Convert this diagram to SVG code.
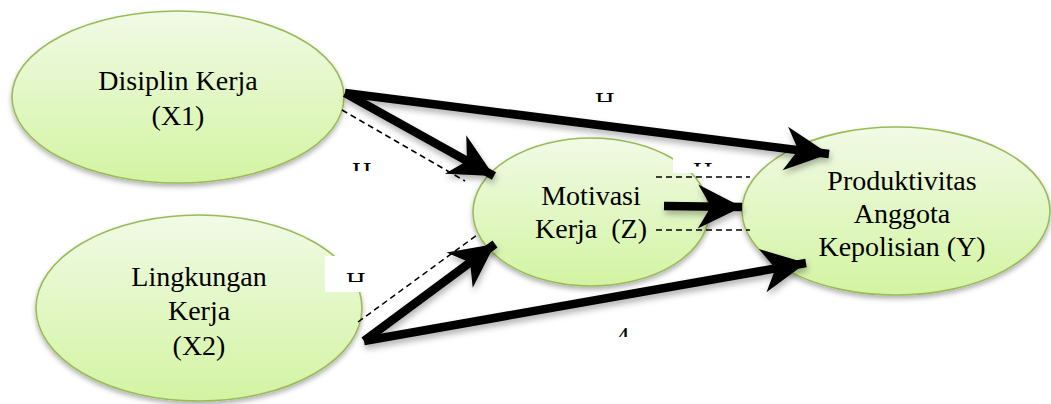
<svg xmlns="http://www.w3.org/2000/svg" width="1051" height="404" viewBox="0 0 1051 404">
<style>
.node{fill:url(#g);stroke:#9bbb59;stroke-width:1.6;filter:url(#sh)}
.lbl{font-family:"Liberation Serif","Times New Roman",serif;font-size:28px;fill:#000;text-anchor:middle}
.h{font-family:"Liberation Serif","Times New Roman",serif;font-size:27px;fill:#000}
.arr{stroke:#000;stroke-width:8.5;fill:none;marker-end:url(#ah)}
.dash{stroke:#000;stroke-width:1.5;fill:none;stroke-dasharray:6 4}
.box{fill:#fff}
</style>
<defs>
<linearGradient id="g" x1="0" y1="0" x2="0" y2="1">
<stop offset="0" stop-color="#f1fae6"/>
<stop offset="1" stop-color="#d3f4a2"/>
</linearGradient>
<filter id="sh" x="-10%" y="-10%" width="120%" height="130%">
<feDropShadow dx="0" dy="3" stdDeviation="2.5" flood-color="#000" flood-opacity="0.3"/>
</filter>
<filter id="ash" x="-10%" y="-30%" width="120%" height="160%">
<feDropShadow dx="1" dy="4" stdDeviation="3" flood-color="#000" flood-opacity="0.3"/>
</filter>
<marker id="ah" markerUnits="userSpaceOnUse" markerWidth="50" markerHeight="50" viewBox="-48 -25 50 50" refX="0" refY="0" orient="auto">
<path d="M0,0 L-44,-22 L-31,0 L-44,22 Z" fill="#000"/>
</marker>
<clipPath id="c1"><rect x="585" y="85" width="40" height="17"/></clipPath>
<clipPath id="c2"><rect x="342" y="155" width="40" height="16"/></clipPath>
<clipPath id="c3"><rect x="336" y="265" width="40" height="17"/></clipPath>
<clipPath id="c4"><rect x="683" y="155" width="40" height="11.5"/></clipPath>
<clipPath id="c5"><rect x="610" y="320" width="30" height="17"/></clipPath>
</defs>
<rect width="1051" height="404" fill="#fff"/>

<g id="node-x1">
<ellipse class="node" cx="178" cy="97" rx="166" ry="86"/>
<text class="lbl" x="178" y="90">Disiplin Kerja</text>
<text class="lbl" x="178" y="125">(X1)</text>
</g>
<g id="node-x2">
<ellipse class="node" cx="199" cy="308" rx="163" ry="93"/>
<text class="lbl" x="199" y="286">Lingkungan</text>
<text class="lbl" x="199" y="320">Kerja</text>
<text class="lbl" x="199" y="355">(X2)</text>
</g>
<g id="node-z">
<ellipse class="node" cx="591" cy="212" rx="118" ry="74"/>
<text class="lbl" x="591" y="205">Motivasi</text>
<text class="lbl" x="591" y="238" xml:space="preserve">Kerja  (Z)</text>
</g>
<g id="node-y">
<ellipse class="node" cx="896" cy="211" rx="154" ry="84"/>
<text class="lbl" x="902" y="190">Produktivitas</text>
<text class="lbl" x="902" y="223">Anggota</text>
<text class="lbl" x="902" y="256">Kepolisian (Y)</text>
</g>

<g id="labels">
<rect class="box" x="325" y="256" width="42" height="36"/>
<rect class="box" x="673" y="147" width="50" height="26"/>
<rect class="box" x="596" y="310" width="200" height="40"/>
<text class="h" x="595" y="111" clip-path="url(#c1)">H</text>
<text class="h" x="352" y="181" clip-path="url(#c2)">H</text>
<text class="h" x="346" y="291" clip-path="url(#c3)">H</text>
<text class="h" x="693" y="181" clip-path="url(#c4)">H</text>
<text class="h" x="616" y="346" clip-path="url(#c5)">4</text>
</g>

<g id="connectors">
<path class="dash" d="M342,110 L465,181"/>
<path class="dash" d="M358,322 L477,235"/>
<path class="dash" d="M656,177 L750,177"/>
<path class="dash" d="M656,230 L750,230"/>
<g filter="url(#ash)">
<path class="arr" d="M345,93 L829,154"/>
<path class="arr" d="M345,93 L494,176"/>
<path class="arr" d="M364,341 L495,244"/>
<path class="arr" d="M364,341 L806,263"/>
<path class="arr" d="M664,206 L742,207"/>
</g>
</g>
</svg>
